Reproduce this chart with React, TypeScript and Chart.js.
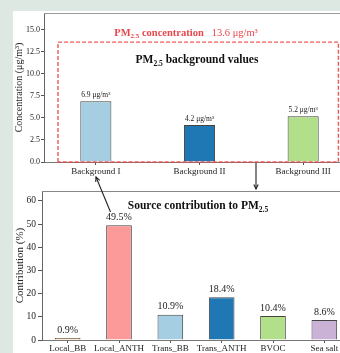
import { useEffect, useRef } from "react";
import { Chart, registerables } from "chart.js";

Chart.register(...registerables);

const FAMILY = "'Liberation Serif', 'DejaVu Serif', serif";

// ---- top panel data ----
const topCategories = ["Background I", "Background II", "Background III"];
const topValues = [6.9, 4.2, 5.2];
const topColors = ["#a6cee3", "#1f78b4", "#b2df8a"];
const topYTicks = [0, 2.5, 5, 7.5, 10, 12.5, 15];
const totalConcentration = 13.6;

// ---- bottom panel data ----
const bottomCategories = ["Local_BB", "Local_ANTH", "Trans_BB", "Trans_ANTH", "BVOC", "Sea salt"];
const bottomValues = [0.9, 49.5, 10.9, 18.4, 10.4, 8.6];
const bottomColors = ["#fdbf6f", "#fb9a99", "#a6cee3", "#1f78b4", "#b2df8a", "#cab2d6"];
const bottomYTicks = [0, 10, 20, 30, 40, 50, 60];

type Seg = { t: string; size: number; bold?: boolean; dy?: number };

function drawRich(ctx: CanvasRenderingContext2D, segs: Seg[], cx: number, baseY: number, color: string) {
  ctx.save();
  ctx.fillStyle = color;
  ctx.textBaseline = "alphabetic";
  ctx.textAlign = "left";
  const fontOf = (s: Seg) => `${s.bold ? "bold " : ""}${s.size}px ${FAMILY}`;
  let total = 0;
  for (const s of segs) {
    ctx.font = fontOf(s);
    total += ctx.measureText(s.t).width;
  }
  let x = cx - total / 2;
  for (const s of segs) {
    ctx.font = fontOf(s);
    ctx.fillText(s.t, x, baseY + (s.dy || 0));
    x += ctx.measureText(s.t).width;
  }
  ctx.restore();
}

function topSpine(color: string) {
  return {
    id: "topSpine",
    afterDraw(chart: any) {
      const { ctx, chartArea } = chart;
      ctx.save();
      ctx.strokeStyle = color;
      ctx.lineWidth = 1;
      ctx.beginPath();
      ctx.moveTo(chartArea.left, Math.round(chartArea.top) + 0.5);
      ctx.lineTo(chartArea.right, Math.round(chartArea.top) + 0.5);
      ctx.stroke();
      ctx.restore();
    },
  };
}

function barLabels(fmt: (v: number) => string, size: number, gap: number) {
  return {
    id: "barLabels",
    afterDatasetsDraw(chart: any) {
      const { ctx } = chart;
      const meta = chart.getDatasetMeta(0);
      const data = chart.data.datasets[0].data as number[];
      ctx.save();
      ctx.fillStyle = "#222";
      ctx.font = `${size}px ${FAMILY}`;
      ctx.textAlign = "center";
      ctx.textBaseline = "bottom";
      meta.data.forEach((bar: any, i: number) => {
        ctx.fillText(fmt(data[i]), bar.x, bar.y - gap);
      });
      ctx.restore();
    },
  };
}

export default function App() {
  const topRef = useRef<HTMLCanvasElement>(null);
  const botRef = useRef<HTMLCanvasElement>(null);

  useEffect(() => {
    document.body.style.margin = "0";

    const topAnnot = {
      id: "topAnnot",
      afterDraw(chart: any) {
        const { ctx, scales } = chart;
        const x = scales.x;
        const y = scales.y;
        const left = x.getPixelForValue(-0.365);
        const right = x.getPixelForValue(2.34);
        const top = y.getPixelForValue(totalConcentration);
        const bottom = y.getPixelForValue(0);
        ctx.save();
        ctx.strokeStyle = "rgba(236, 70, 70, 0.9)";
        ctx.lineWidth = 1.4;
        ctx.setLineDash([4, 2]);
        ctx.beginPath();
        ctx.moveTo(left, bottom);
        ctx.lineTo(left, top);
        ctx.lineTo(right, top);
        ctx.lineTo(right, bottom);
        ctx.lineTo(left, bottom);
        ctx.stroke();
        ctx.restore();
        drawRich(
          ctx,
          [
            { t: "PM", size: 10.5, bold: true },
            { t: "2.5", size: 7, bold: true, dy: 2.5 },
            { t: " concentration", size: 10.5, bold: true },
            { t: "   13.6 μg/m³", size: 10.5 },
          ],
          186,
          35.5,
          "#e8474c"
        );
        drawRich(
          ctx,
          [
            { t: "PM", size: 11.5, bold: true },
            { t: "2.5", size: 7.5, bold: true, dy: 2.8 },
            { t: " background values", size: 11.5, bold: true },
          ],
          197,
          63,
          "#111"
        );
      },
    };

    const botAnnot = {
      id: "botAnnot",
      afterDraw(chart: any) {
        drawRich(
          chart.ctx,
          [
            { t: "Source contribution to PM", size: 11.5, bold: true },
            { t: "2.5", size: 7.5, bold: true, dy: 2.8 },
          ],
          198,
          29,
          "#111"
        );
      },
    };

    const c1 = new Chart(topRef.current!, {
      type: "bar",
      data: {
        labels: topCategories,
        datasets: [
          {
            data: topValues,
            backgroundColor: topColors,
            borderColor: "#444",
            borderWidth: 1,
            barPercentage: 0.3,
            categoryPercentage: 1,
          },
        ],
      },
      options: {
        responsive: false,
        animation: false,
        devicePixelRatio: 1,
        layout: { padding: { top: 13, left: 0, right: 0, bottom: 0 } },
        plugins: { legend: { display: false }, tooltip: { enabled: false } },
        scales: {
          x: {
            offset: true,
            grid: { offset: false, drawOnChartArea: false, tickLength: 3, color: "#555" },
            border: { color: "#777", width: 1 },
            ticks: { font: { family: FAMILY, size: 9 }, color: "#222", padding: 1, maxRotation: 0, autoSkip: false },
            afterFit: (s: any) => {
              s.height = 18;
            },
          },
          y: {
            min: 0,
            max: 16.9,
            afterBuildTicks: (s: any) => {
              s.ticks = topYTicks.map((v) => ({ value: v }));
            },
            ticks: {
              font: { family: FAMILY, size: 8 },
              color: "#222",
              padding: 1,
              callback: (v: any) => Number(v).toFixed(1),
            },
            grid: { drawOnChartArea: false, tickLength: 3, color: "#555" },
            border: { color: "#666", width: 1 },
            title: {
              display: true,
              text: "Concentration (μg/m³)",
              font: { family: FAMILY, size: 10 },
              color: "#222",
              padding: { top: 13, bottom: 0 },
            },
            afterFit: (s: any) => {
              s.width = 44;
            },
          },
        },
      },
      plugins: [topSpine("#999"), barLabels((v) => `${v} μg/m³`, 7.5, 2), topAnnot],
    } as any);

    const c2 = new Chart(botRef.current!, {
      type: "bar",
      data: {
        labels: bottomCategories,
        datasets: [
          {
            data: bottomValues,
            backgroundColor: bottomColors,
            borderColor: "#444",
            borderWidth: 1,
            barPercentage: 0.5,
            categoryPercentage: 1,
          },
        ],
      },
      options: {
        responsive: false,
        animation: false,
        devicePixelRatio: 1,
        layout: { padding: { top: 11, left: 0, right: 0, bottom: 0 } },
        plugins: { legend: { display: false }, tooltip: { enabled: false } },
        scales: {
          x: {
            offset: true,
            grid: { offset: false, drawOnChartArea: false, tickLength: 3, color: "#555" },
            border: { color: "#777", width: 1 },
            ticks: { font: { family: FAMILY, size: 9 }, color: "#222", padding: 0, maxRotation: 0, autoSkip: false },
            afterFit: (s: any) => {
              s.height = 13;
            },
          },
          y: {
            min: 0,
            max: 64.3,
            afterBuildTicks: (s: any) => {
              s.ticks = bottomYTicks.map((v) => ({ value: v }));
            },
            ticks: { font: { family: FAMILY, size: 9.5 }, color: "#222", padding: 2 },
            grid: { drawOnChartArea: false, tickLength: 4, color: "#555" },
            border: { color: "#666", width: 1 },
            title: {
              display: true,
              text: "Contribution (%)",
              font: { family: FAMILY, size: 11 },
              color: "#222",
              padding: { top: 13.5, bottom: 0 },
            },
            afterFit: (s: any) => {
              s.width = 42;
            },
          },
        },
      },
      plugins: [topSpine("#888"), barLabels((v) => `${v}%`, 10, 3)],
    } as any);
    c2.config.plugins.push(botAnnot as any);
    c2.update();

    return () => {
      c1.destroy();
      c2.destroy();
    };
  }, []);

  const arrow = (x1: number, y1: number, x2: number, y2: number) => {
    const a = Math.atan2(y2 - y1, x2 - x1);
    const L = 5;
    const w = 0.45;
    const p1 = [x2 - L * Math.cos(a - w), y2 - L * Math.sin(a - w)];
    const p2 = [x2 - L * Math.cos(a + w), y2 - L * Math.sin(a + w)];
    return (
      <g stroke="#222" strokeWidth={1.1} fill="none">
        <line x1={x1} y1={y1} x2={x2} y2={y2} />
        <polyline points={`${p1[0]},${p1[1]} ${x2},${y2} ${p2[0]},${p2[1]}`} />
      </g>
    );
  };

  return (
    <div
      style={{
        position: "fixed",
        left: 0,
        top: 0,
        width: 340,
        height: 353,
        overflow: "hidden",
        background: "#dce8e1",
      }}
    >
      <div style={{ position: "absolute", left: 13, top: 11, right: 0, bottom: 0, background: "#fff" }} />
      <canvas
        ref={topRef}
        width={355}
        height={180}
        style={{ position: "absolute", left: 0, top: 0, width: 355, height: 180 }}
      />
      <canvas
        ref={botRef}
        width={350}
        height={173}
        style={{ position: "absolute", left: 0, top: 180, width: 350, height: 173 }}
      />
      <svg
        width={340}
        height={353}
        style={{ position: "absolute", left: 0, top: 0, pointerEvents: "none" }}
      >
        {arrow(110.5, 212, 96, 177)}
        {arrow(256, 163, 256, 189)}
      </svg>
    </div>
  );
}
